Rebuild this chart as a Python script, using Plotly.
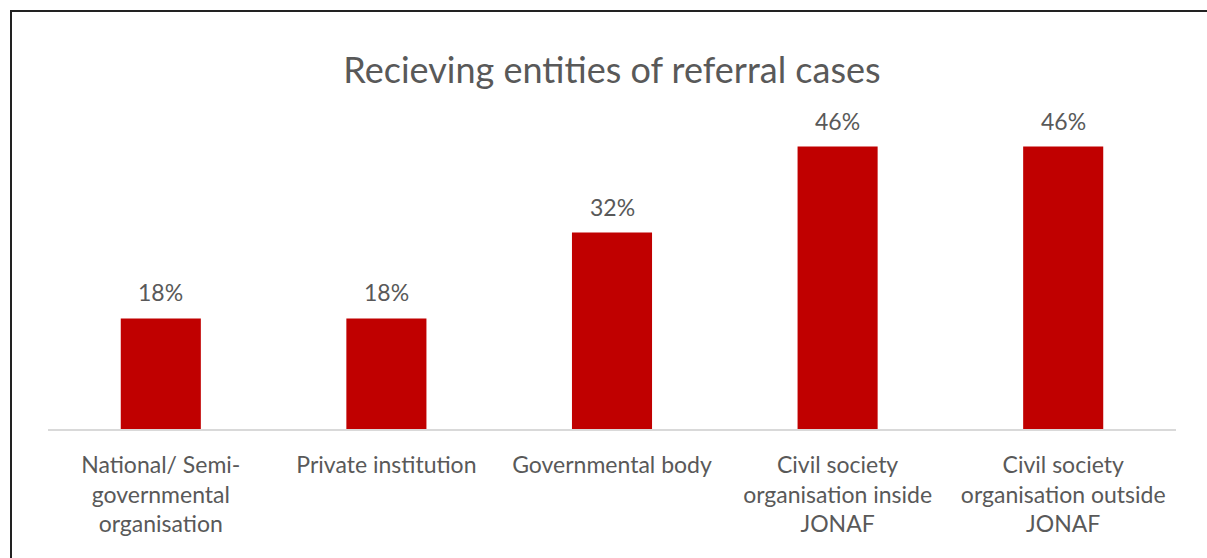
import plotly.graph_objects as go

categories = [
    "National/ Semi-<br>governmental<br>organisation",
    "Private institution",
    "Governmental body",
    "Civil society<br>organisation inside<br>JONAF",
    "Civil society<br>organisation outside<br>JONAF",
]
values = [18, 18, 32, 46, 46]
value_labels = ["18%", "18%", "32%", "46%", "46%"]
title_text = "Recieving entities of referral cases"

FONT = "Lato, 'Open Sans', sans-serif"
GRAY = "#595959"

fig = go.Figure()
fig.add_trace(go.Bar(
    x=categories, y=values,
    marker=dict(color="#C00000", line=dict(width=0)),
    hoverinfo="skip",
))

for c, v, t in zip(categories, values, value_labels):
    fig.add_annotation(x=c, y=v, text=t, showarrow=False, yanchor="bottom",
                       yshift=10, font=dict(family=FONT, size=23, color=GRAY))

W, H = 1207, 558
ml, mr, mt, mb = 48, 31, 122, 129
pw, ph = W - ml - mr, H - mt - mb

def px_x(p):
    return (p - ml) / pw

def px_y(p):
    return (H - mb - p) / ph

fig.add_shape(type="line", xref="paper", yref="paper",
              x0=px_x(10), x1=px_x(1250), y0=px_y(11), y1=px_y(11),
              line=dict(color="#222222", width=2))
fig.add_shape(type="line", xref="paper", yref="paper",
              x0=px_x(11), x1=px_x(11), y0=px_y(11), y1=px_y(600),
              line=dict(color="#222222", width=2))

fig.update_layout(
    width=W, height=H,
    margin=dict(l=ml, r=mr, t=mt, b=mb),
    paper_bgcolor="white", plot_bgcolor="white",
    bargap=0.645,
    showlegend=False,
    title=dict(text=title_text, x=0.5, xanchor="center", xref="paper",
               y=1 - 70 / H, yanchor="middle",
               font=dict(family=FONT, size=36, color=GRAY)),
    xaxis=dict(showline=True, linecolor="#d9d9d9", linewidth=2,
               ticks="", showgrid=False, ticklabelstandoff=14,
               tickfont=dict(family=FONT, size=23, color=GRAY)),
    yaxis=dict(range=[0, 50], visible=False, showgrid=False, zeroline=False),
)

fig.write_html("out.html")
